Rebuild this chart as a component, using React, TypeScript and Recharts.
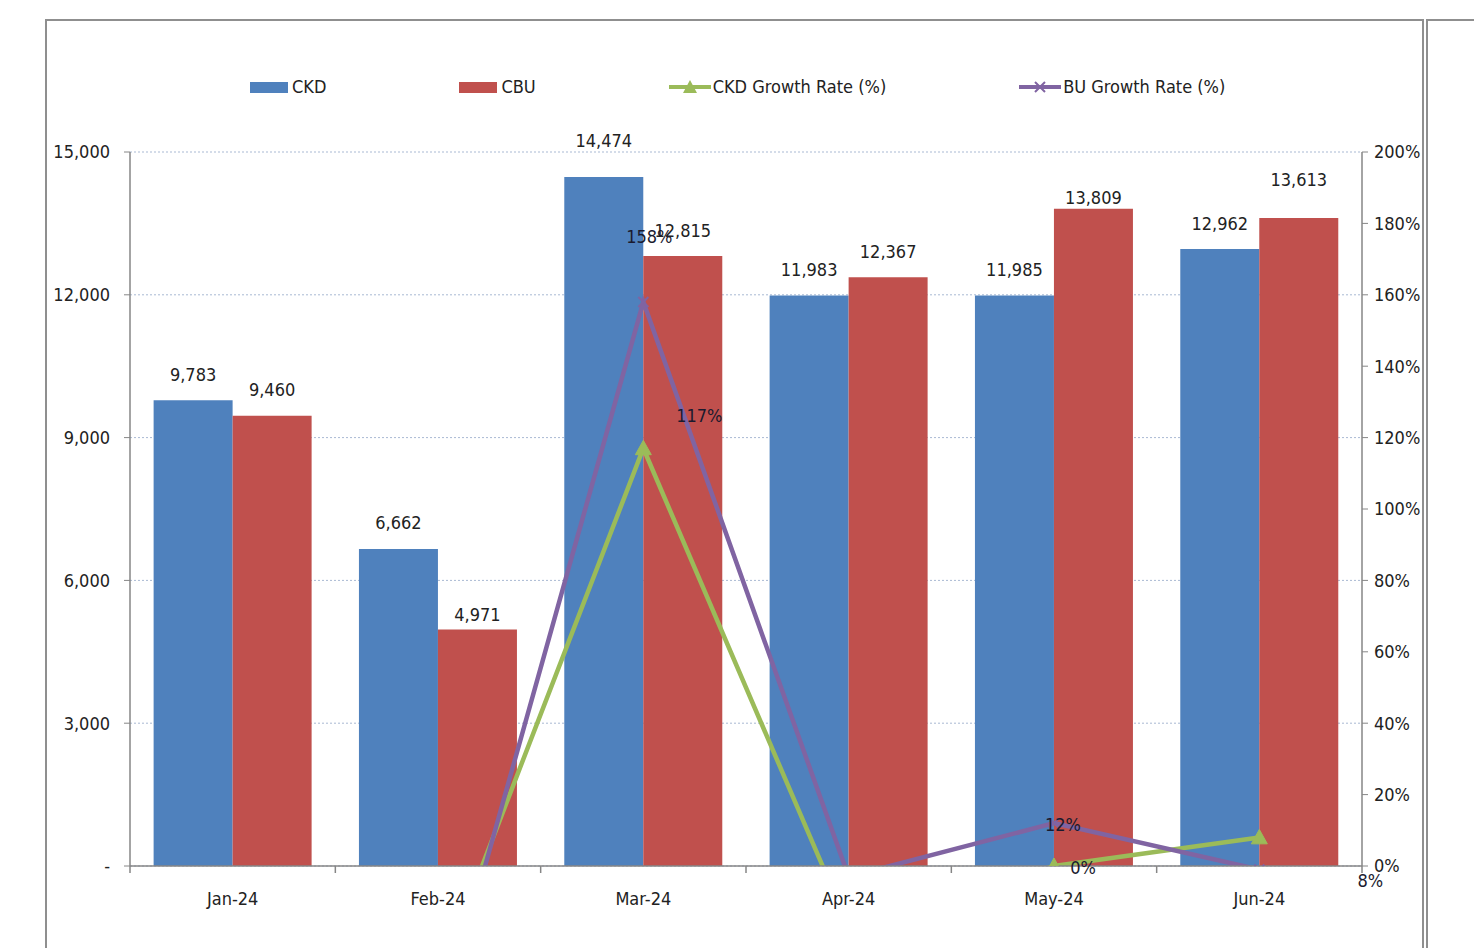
import React from 'react';
import { ComposedChart, Bar, Line, XAxis, YAxis, CartesianGrid, LabelList, Legend } from 'recharts';

const months = ['Jan-24', 'Feb-24', 'Mar-24', 'Apr-24', 'May-24', 'Jun-24'];
const ckdUnits = [9783, 6662, 14474, 11983, 11985, 12962];
const cbuUnits = [9460, 4971, 12815, 12367, 13809, 13613];
const ckdGrowth: (number | null)[] = [null, -32, 117, -17, 0, 8];
const buGrowth: (number | null)[] = [null, -47, 158, -3, 12, -1];
const leftTicks = [0, 3000, 6000, 9000, 12000, 15000];
const rightTicks = [0, 20, 40, 60, 80, 100, 120, 140, 160, 180, 200];

const data = months.map((m, i) => ({
  month: m,
  ckd: ckdUnits[i],
  cbu: cbuUnits[i],
  ckdG: ckdGrowth[i],
  buG: buGrowth[i],
}));

// label placement tweaks (layout only)
const ckdBarLift = [0, 0, 11, 0, 0, 0];
const cbuBarLift = [0, -11, 0, 0, -15, 13];
const ckdLineLabelPos: Record<number, [number, number]> = { 2: [56, -33], 4: [29, 1], 5: [111, 43] };
const buLineLabelPos: Record<number, [number, number]> = { 2: [6, -65], 4: [9, 1] };

const FONT = '"Liberation Sans Narrow", "DejaVu Sans Condensed", "Open Sans", sans-serif';
const FS = 18;
const BLUE = '#4F81BD';
const RED = '#C0504D';
const GREEN = '#9BBB59';
const PURPLE = '#8064A2';
const AXIS = '#868686';
const TEXT = '#222222';

const fmt = (v: number) => v.toLocaleString('en-US');

const makeBarLabel = (lift: number[]) => (props: any) => {
  const { x, y, width, value, index } = props;
  if (value == null) return null;
  return (
    <text
      x={Number(x) + Number(width) / 2}
      y={Number(y) - 26 - (lift[index] || 0)}
      textAnchor="middle"
      dominantBaseline="central"
      fontSize={FS}
      fontFamily={FONT}
      fill={TEXT}
    >
      {fmt(Number(value))}
    </text>
  );
};

const makeLineLabel = (pos: Record<number, [number, number]>) => (props: any) => {
  const { x, y, value, index } = props;
  const p = pos[index];
  if (!p || value == null) return null;
  return (
    <text
      x={Number(x) + p[0]}
      y={Number(y) + p[1]}
      textAnchor="middle"
      dominantBaseline="central"
      fontSize={FS}
      fontFamily={FONT}
      fill="#1a1a2e"
    >
      {`${value}%`}
    </text>
  );
};

const TriangleDot = (props: any) => {
  const { cx, cy, index } = props;
  if (cx == null || cy == null || props.value == null) return <g key={`t${index}`} />;
  const s = 8;
  return (
    <path
      key={`t${index}`}
      d={`M${cx},${cy - s} L${cx + s},${cy + s * 0.8} L${cx - s},${cy + s * 0.8} Z`}
      fill={GREEN}
      stroke={GREEN}
    />
  );
};

const XDot = (props: any) => {
  const { cx, cy, index } = props;
  if (cx == null || cy == null || props.value == null) return <g key={`x${index}`} />;
  const s = 5;
  return (
    <path
      key={`x${index}`}
      d={`M${cx - s},${cy - s} L${cx + s},${cy + s} M${cx - s},${cy + s} L${cx + s},${cy - s}`}
      stroke={PURPLE}
      strokeWidth={2}
    />
  );
};

const XTick = (props: any) => {
  const { x, y, payload, index, visibleTicksCount } = props;
  const half = payload && typeof payload.offset === 'number' && payload.offset > 0 ? payload.offset : 102.7;
  const isLast = index === (visibleTicksCount ?? months.length) - 1;
  return (
    <g>
      <line x1={x - half} y1={y} x2={x - half} y2={y + 7} stroke={AXIS} strokeWidth={1.5} />
      {isLast && <line x1={x + half} y1={y} x2={x + half} y2={y + 7} stroke={AXIS} strokeWidth={1.5} />}
      <text
        x={x}
        y={y + 32}
        textAnchor="middle"
        dominantBaseline="central"
        fontSize={FS}
        fontFamily={FONT}
        fill={TEXT}
      >
        {payload.value}
      </text>
    </g>
  );
};

const legendItems = [
  { label: 'CKD', type: 'rect', color: BLUE },
  { label: 'CBU', type: 'rect', color: RED },
  { label: 'CKD Growth Rate (%)', type: 'tri', color: GREEN },
  { label: 'BU Growth Rate (%)', type: 'x', color: PURPLE },
];

const LegendContent = () => (
  <div style={{ display: 'flex', alignItems: 'center', gap: 133, fontFamily: FONT, fontSize: FS, color: TEXT }}>
    {legendItems.map((it) => (
      <div key={it.label} style={{ display: 'flex', alignItems: 'center' }}>
        {it.type === 'rect' ? (
          <svg width={42} height={14}>
            <rect x={0} y={2} width={38} height={11} fill={it.color} />
          </svg>
        ) : (
          <svg width={44} height={20}>
            <line x1={0} y1={10} x2={42} y2={10} stroke={it.color} strokeWidth={4} />
            {it.type === 'tri' ? (
              <path d="M21,3 L28,16 L14,16 Z" fill={it.color} />
            ) : (
              <path d="M16,5 L26,15 M16,15 L26,5" stroke={it.color} strokeWidth={2} />
            )}
          </svg>
        )}
        <span>{it.label}</span>
      </div>
    ))}
  </div>
);

export default function App() {
  return (
    <div style={{ position: 'absolute', left: 0, top: 0, width: 1474, height: 948, overflow: 'hidden', background: '#fff' }}>
      <div style={{ position: 'absolute', left: 45, top: 19, width: 1375, height: 960, borderTop: '2px solid #8f8f8f', borderLeft: '2px solid #8f8f8f', borderRight: '2px solid #8f8f8f' }} />
      <div style={{ position: 'absolute', left: 1426, top: 19, width: 100, height: 960, borderTop: '2px solid #8f8f8f', borderLeft: '2px solid #8f8f8f' }} />
      <div style={{ position: 'absolute', left: 0, top: 0 }}>
        <ComposedChart
          width={1474}
          height={948}
          data={data}
          margin={{ top: 152, right: 0, bottom: 0, left: 0 }}
          barCategoryGap="11.5%"
          barGap={0}
        >
          <CartesianGrid yAxisId="left" horizontal vertical={false} stroke="#a9b9d3" strokeDasharray="2 2" />
          <XAxis
            dataKey="month"
            height={82}
            axisLine={{ stroke: AXIS, strokeWidth: 1.5 }}
            tickLine={false}
            tickSize={0}
            tickMargin={0}
            tick={<XTick />}
            interval={0}
          />
          <YAxis
            yAxisId="left"
            width={130}
            domain={[0, 15000]}
            ticks={leftTicks}
            tickFormatter={(v: number) => (v === 0 ? '-' : fmt(v))}
            axisLine={{ stroke: AXIS, strokeWidth: 1.5 }}
            tickLine={{ stroke: AXIS }}
            tickSize={6}
            tickMargin={14}
            tick={{ fill: TEXT, fontSize: FS, fontFamily: FONT }}
          />
          <YAxis
            yAxisId="right"
            orientation="right"
            width={112}
            domain={[0, 200]}
            allowDataOverflow
            ticks={rightTicks}
            tickFormatter={(v: number) => `${v}%`}
            axisLine={{ stroke: AXIS, strokeWidth: 1.5 }}
            tickLine={{ stroke: AXIS }}
            tickSize={6}
            tickMargin={6}
            tick={{ fill: TEXT, fontSize: FS, fontFamily: FONT, textAnchor: 'start' }}
          />
          <Legend
            layout="horizontal"
            verticalAlign="middle"
            align="center"
            content={<LegendContent />}
            wrapperStyle={{ top: 76, left: 250, width: 1100 }}
          />
          <Bar yAxisId="left" dataKey="ckd" name="CKD" fill={BLUE} isAnimationActive={false}>
            <LabelList dataKey="ckd" content={makeBarLabel(ckdBarLift)} />
          </Bar>
          <Bar yAxisId="left" dataKey="cbu" name="CBU" fill={RED} isAnimationActive={false}>
            <LabelList dataKey="cbu" content={makeBarLabel(cbuBarLift)} />
          </Bar>
          <Line
            yAxisId="right"
            type="linear"
            dataKey="ckdG"
            name="CKD Growth Rate (%)"
            stroke={GREEN}
            strokeWidth={4.5}
            dot={TriangleDot}
            activeDot={false}
            isAnimationActive={false}
          >
            <LabelList dataKey="ckdG" content={makeLineLabel(ckdLineLabelPos)} />
          </Line>
          <Line
            yAxisId="right"
            type="linear"
            dataKey="buG"
            name="BU Growth Rate (%)"
            stroke={PURPLE}
            strokeWidth={4.5}
            dot={XDot}
            activeDot={false}
            isAnimationActive={false}
          >
            <LabelList dataKey="buG" content={makeLineLabel(buLineLabelPos)} />
          </Line>
        </ComposedChart>
      </div>
    </div>
  );
}
